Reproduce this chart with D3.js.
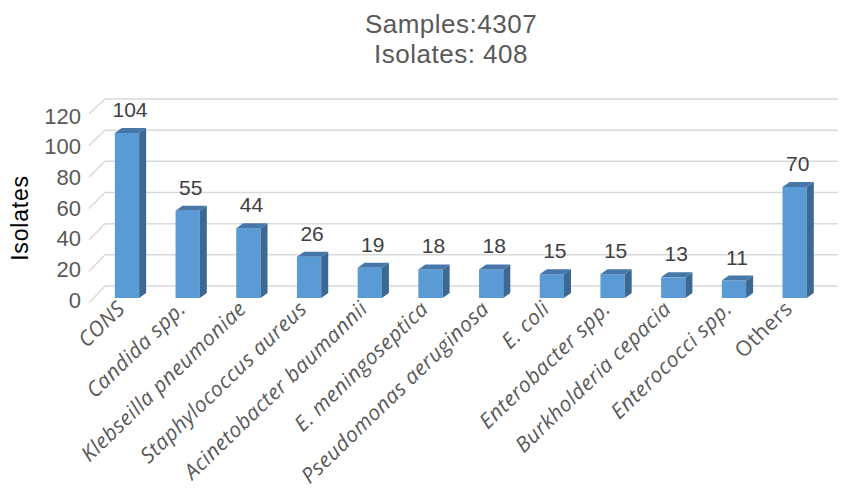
<!DOCTYPE html>
<html>
<head>
<meta charset="utf-8">
<script src="https://cdn.jsdelivr.net/npm/d3@7"></script>
<style>
  html, body { margin: 0; padding: 0; background: #fff; }
  svg { display: block; }
  text { font-family: "Liberation Sans", Arial, Helvetica, sans-serif; }
  .cat { font-family: "Open Sans", "Liberation Sans", sans-serif; }
</style>
</head>
<body>
<svg id="chart" width="841" height="502"></svg>
<script>
// Isolates per organism
const categories = [
  "CONS", "Candida spp.", "Klebseilla pneumoniae", "Staphylococcus aureus",
  "Acinetobacter baumannii", "E. meningoseptica", "Pseudomonas aeruginosa",
  "E. coli", "Enterobacter spp.", "Burkholderia cepacia", "Enterococci spp.", "Others"
];
const values = [104, 55, 44, 26, 19, 18, 18, 15, 15, 13, 11, 70];
const yTicks = [0, 20, 40, 60, 80, 100, 120];
const titleLines = ["Samples:4307", "Isolates: 408"];
const yTitle = "Isolates";
const uprightLabels = ["Others"];

const svg = d3.select("#chart");

// Front plane (bars), back wall and left wall edge scales
const x = d3.scaleBand().domain(categories).range([96.65, 825]).paddingInner(0.6).paddingOuter(0.3);
const y = d3.scaleLinear().domain([0, 120]).range([298, 107.6]);
const yBack = d3.scaleLinear().domain([0, 120]).range([286, 99]);
const yWall = d3.scaleLinear().domain([0, 120]).range([303, 114]);
const yLabel = d3.scaleLinear().domain([0, 120]).range([300, 116]);

const wallFrontX = 89, wallBackX = 105, wallRightX = 838;
const depthX = 7, depthY = 5;

// Gridlines: diagonal on the side wall, horizontal on the back wall
const grid = svg.append("g").attr("fill", "none").attr("stroke", "#d9d9d9").attr("stroke-width", 1.5);
yTicks.forEach(t => {
  grid.append("path")
    .attr("d", `M${wallFrontX},${yWall(t)}L${wallBackX},${yBack(t)}L${wallRightX},${yBack(t)}`);
});

// Tick labels
svg.append("g").selectAll("text").data(yTicks).join("text")
  .attr("x", 81).attr("y", d => yLabel(d)).attr("dy", "0.35em")
  .attr("text-anchor", "end").attr("font-size", 22).attr("fill", "#595959")
  .text(d => d);

// 3D columns
const bw = x.bandwidth();
const bars = svg.append("g").selectAll("g").data(categories.map((c, i) => ({c, v: values[i]}))).join("g");
bars.append("rect")
  .attr("x", d => x(d.c)).attr("y", d => y(d.v))
  .attr("width", bw).attr("height", d => y(0) - y(d.v))
  .attr("fill", "#5b9bd5");
bars.append("path")
  .attr("d", d => {
    const x1 = x(d.c) + bw;
    return `M${x1},${y(d.v)}L${x1 + depthX},${y(d.v) - depthY}L${x1 + depthX},${y(0) - depthY}L${x1},${y(0)}Z`;
  })
  .attr("fill", "#3c6894");
bars.append("path")
  .attr("d", d => {
    const x0 = x(d.c), yt = y(d.v);
    return `M${x0},${yt}L${x0 + depthX},${yt - depthY}L${x0 + bw + depthX},${yt - depthY}L${x0 + bw},${yt}Z`;
  })
  .attr("fill", "#4677a8");

// Value labels
bars.append("text")
  .attr("x", d => x(d.c) + bw / 2 + 3)
  .attr("y", d => y(d.v) - 16)
  .attr("text-anchor", "middle").attr("font-size", 21).attr("fill", "#404040")
  .text(d => d.v);

// Category labels, rotated
svg.append("g").selectAll("text").data(categories).join("text")
  .attr("class", "cat")
  .attr("transform", d => `translate(${x(d) + bw / 2 - 6},${305}) rotate(-44)`)
  .attr("text-anchor", "end").attr("dy", "0.35em")
  .attr("font-size", 21).attr("letter-spacing", 0.5).attr("fill", "#595959")
  .attr("font-style", d => uprightLabels.includes(d) ? "normal" : "italic")
  .text(d => d);

// Axis title
svg.append("text")
  .attr("transform", "translate(28,218) rotate(-90)")
  .attr("text-anchor", "middle").attr("font-size", 23).attr("fill", "#000")
  .attr("letter-spacing", 0.8)
  .text(yTitle);

// Chart title
svg.append("g").selectAll("text").data(titleLines).join("text")
  .attr("x", 451).attr("y", (d, i) => 33 + i * 30)
  .attr("text-anchor", "middle").attr("font-size", 26).attr("fill", "#595959")
  .attr("letter-spacing", 0.5)
  .text(d => d);
</script>
</body>
</html>
